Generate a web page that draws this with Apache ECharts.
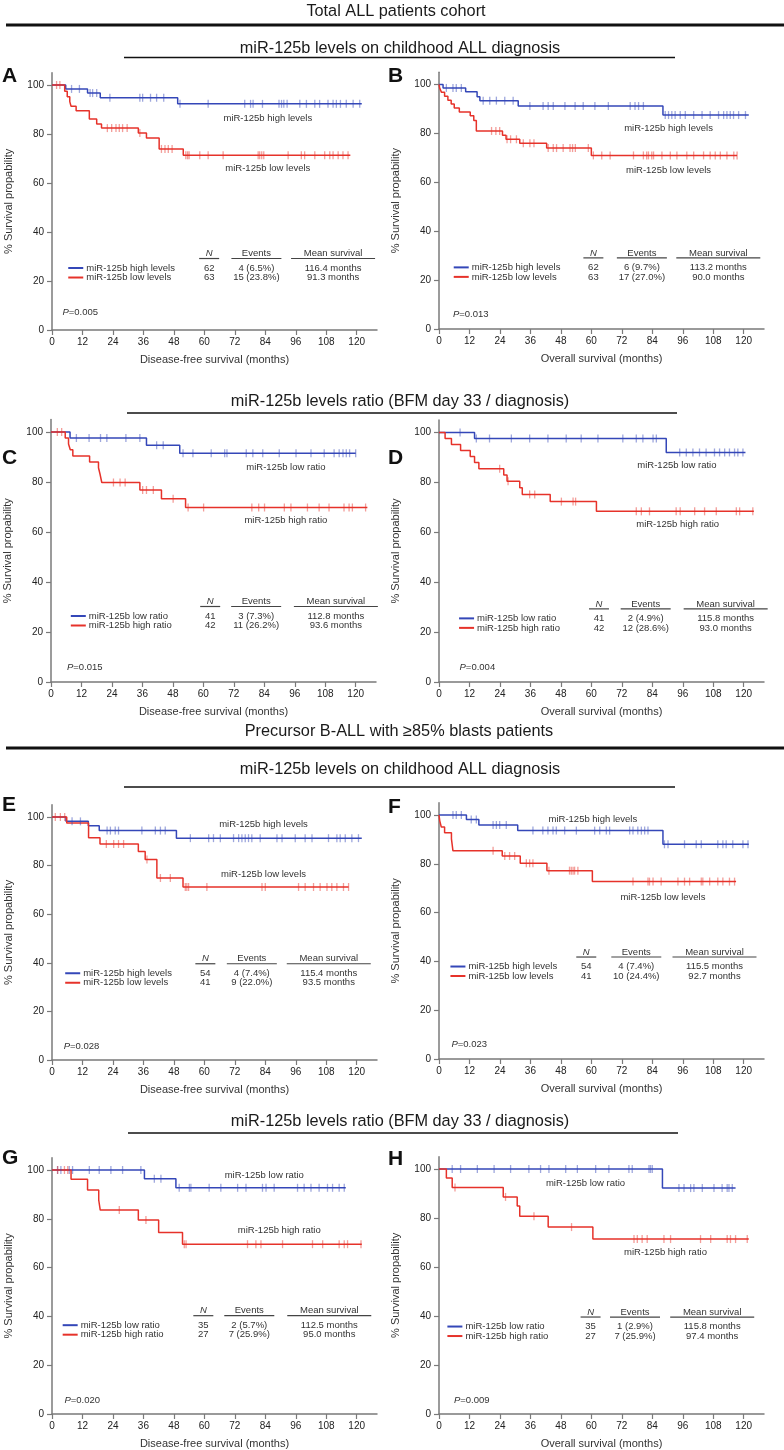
<!DOCTYPE html>
<html>
<head>
<meta charset="utf-8">
<script src="https://cdn.jsdelivr.net/npm/echarts@6.0.0/dist/echarts.min.js"></script>
<style>
  html, body { margin: 0; padding: 0; background: #fff; }
  #chart { width: 784px; height: 1450px; }
</style>
</head>
<body>
<div id="chart"></div>
<script>
// ---- data ----
const xTicks = [0, 12, 24, 36, 48, 60, 72, 84, 96, 108, 120];
const yTicks = [0, 20, 40, 60, 80, 100];
const panelIds = ['A', 'B', 'C', 'D', 'E', 'F', 'G', 'H'];
const xTitles = ['Disease-free survival (months)', 'Overall survival (months)'];
const yTitle = '% Survival propability';
const levelNames = ['miR-125b high levels', 'miR-125b low levels'];
const ratioNames = ['miR-125b low ratio', 'miR-125b high ratio'];
const tableHead = ['N', 'Events', 'Mean survival'];
const pValues = ['0.005', '0.013', '0.015', '0.004', '0.028', '0.023', '0.020', '0.009'];
const headerTexts = [
  'Total ALL patients cohort',
  'miR-125b levels on childhood ALL diagnosis',
  'miR-125b levels ratio (BFM day 33 / diagnosis)',
  'Precursor B-ALL with \u226585% blasts patients',
  'miR-125b levels on childhood ALL diagnosis',
  'miR-125b levels ratio (BFM day 33 / diagnosis)'
];

// Kaplan-Meier steps [month, % surviving] and censor times (months)
const aHigh = [[0,100],[5.4,98.4],[14,96.7],[19,94.8],[49.5,92.3],[122,92.3]];
const aHighCens = [7.7,10.8,15,16,17.6,22.8,34.6,35.7,38.8,41.2,44,50.4,61.5,75.9,78.2,79.2,82.9,89.4,90.4,91.3,92.6,97.6,100.2,103.5,105.4,108.7,110.7,112,113.6,115.9,118.6,121.2];
const aLow = [[0,100],[5,97.4],[6,95.2],[7,93.2],[7.5,91.3],[9.5,89.5],[14.7,86.1],[17.6,84.1],[19.5,82.4],[34,80.4],[37.2,78.4],[42.2,73.9],[51.7,71.3],[117.5,71.3]];
const aLowCens = [1.8,3.1,21.8,23.5,25.2,26.5,27.8,29.6,34.6,43.1,44.5,45.8,47.3,52.7,53.4,54,58.2,61.5,67.4,81.2,81.8,82.6,83.4,93,98.2,99.5,103.5,107.4,109.4,110.7,112.7,114.6,116.6];

const bHigh = [[0,100],[1.6,98.6],[10.5,97],[15,95],[16.1,93.4],[31.2,91.2],[88.2,87.5],[122,87.5]];
const bHighCens = [2.9,5.5,6.8,8.8,17.4,20,22.6,25.9,29.2,35.8,41,43,45,49.6,53.6,56.8,61.4,66.7,75.3,77.2,78.6,80.5,89.1,90.4,91.7,93,95,97,100.3,103.6,106.8,110.1,112.1,113.4,114.7,116,118,120.7];
const bLow = [[0,100],[0.3,98.4],[1,96.8],[2.2,95.2],[3.5,93.6],[4.8,92],[6,90.4],[8,88.8],[12.3,87.2],[13.7,85.3],[14.7,81],[25,79.2],[26.4,77.6],[31.8,76],[42.4,74],[60,71],[117.4,71]];
const bLowCens = [20.7,22.4,23.9,26.8,28.2,30.5,33.2,35.8,37.4,43,45,46.3,48.9,51.6,52.6,53.7,58.8,60.8,64.1,67.4,76.6,80.5,81.8,82.5,83.8,84.5,87.8,91.1,93.7,97.6,100.3,104.2,106.8,108.8,110.8,113.4,116.1,117.4];

const cLow = [[0,100],[7.5,97.6],[37.6,94.7],[50.7,91.5],[120,91.5]];
const cLowCens = [10,15,19.5,22,29.5,35,41.6,44.2,52,55.9,63.1,68.4,69.3,76.9,79.5,83.4,89.9,96.5,102.4,107.6,111.5,113.5,115,116.3,117.6,120];
const cHigh = [[0,100],[5.6,97.6],[6.9,95.2],[7.6,92.9],[8.6,90.4],[15.2,88],[18.7,85.7],[19.3,83.2],[20,79.8],[35,76.8],[43.5,73.3],[53,69.8],[124.6,69.8]];
const cHighCens = [2.5,4.2,24.6,27.2,29.2,36.1,37.6,40.3,48.1,54,60.1,79.1,81.8,84.1,91.9,94.5,101,105.6,109.5,115.4,117.4,118.7,123.9];

const dLow = [[0,100],[14,97.6],[89.5,92],[120.7,92]];
const dLowCens = [8.3,14.7,19.9,28.5,35.7,42.9,50.1,56,62.6,72.4,77.7,80.3,84.3,85.6,94.8,97.4,100,102.6,105.2,108.5,110.5,112.5,114.4,116.4,117.7,119.7];
const dHigh = [[0,100],[2.4,97.6],[4.9,95.2],[8.5,92.8],[12.3,90.4],[14,88],[15.7,85.5],[25.5,83],[26.8,80.5],[31.8,77.9],[32.8,75.2],[43.8,72.3],[62,68.4],[124,68.4]];
const dHighCens = [23.9,27.2,35.7,37.7,48.2,52.8,53.8,77.7,79.7,82.9,93.4,95,100.7,104.6,109.2,117.1,118.4,123.6];

const eHigh = [[0,100],[5.5,98.2],[14.3,96.4],[18.6,94.4],[49,91.3],[122,91.3]];
const eHighCens = [7.9,11.2,21.7,23,24.9,26.2,35.4,40.7,42.7,44.6,54.5,61.7,63.6,66.3,71.5,73.5,74.8,76.1,77.4,78.7,82,88.6,90.6,95.8,99.7,102.4,108.9,112.2,113.5,115.5,118.1,120.7];
const eLow = [[0,100],[5.8,97.5],[14.4,91.5],[18.9,88.9],[34,85.8],[36.7,82.5],[41.3,74.9],[51.6,71.2],[116.8,71.2]];
const eLowCens = [1.3,3.3,5,21.4,24.3,26.2,28.2,37.4,42.7,46.6,52.5,53.1,53.8,61,82.7,84,97.1,99.7,103,105.6,108.3,110.2,112.2,114.8,116.8];

const fHigh = [[0,100],[10.8,98.2],[15.7,95.9],[31,93.6],[88.2,88],[122,88]];
const fHighCens = [5.5,6.8,8.8,12.7,14.7,21.3,22.6,23.9,26.5,37,40.9,42.9,44.9,46.2,49.5,54.1,61.3,63.3,65.9,67.2,75.1,76.4,78.3,79.7,81,82.3,88.8,90.2,96.7,101.3,103.3,109.8,111.8,113.1,115.7,119.7,121.7];
const fLow = [[0,100],[0.3,97.6],[0.9,95.1],[2.2,92.7],[4.9,90.2],[5.5,85.3],[24.9,83.2],[32,80.2],[42.5,77.2],[60.4,72.7],[117,72.7]];
const fLowCens = [21.3,25.9,27.8,29.8,34.4,35.7,37,43.3,51.4,52.1,52.8,53.4,54.7,76.4,82.3,82.9,84.3,87.5,94.1,96.7,98.7,103.3,103.9,106.6,109.8,111.8,114.4,116.4];

const gLow = [[0,100],[36.4,96.4],[48.8,92.7],[115.7,92.7]];
const gLowCens = [2.2,3.5,6.8,8.1,14.7,18.6,23.2,27.8,35,40.3,42.9,50.1,54.1,54.7,61.9,66.5,73.1,76.4,82.9,84.3,87.5,96.7,99.3,102,105.2,108.5,110.5,113.1,115.1];
const gHigh = [[0,100],[7.5,96.2],[14,91.8],[18.4,87.7],[19,83.6],[34,79.5],[42,74.4],[51.4,69.6],[122,69.6]];
const gHighCens = [2.2,4.9,6.2,26.5,37,52.1,52.8,77,80.3,82.3,90.8,102.6,106.6,113.1,115.1,116.4,121.7];

const hLow = [[0,100],[88,92.2],[116.8,92.2]];
const hLowCens = [5.2,8.5,15.1,21.7,28.2,35.4,40,43.3,49.9,54.5,61.7,66.9,74.8,76.1,82.7,83.3,84,94.5,96.5,99.1,100.4,103.7,108.3,111.5,113.5,114.2,115.5];
const hHigh = [[0,100],[2.9,96.3],[5.2,92.4],[25.3,88.6],[30.8,84.9],[31.8,80.7],[43,76.3],[60.6,71.4],[122,71.4]];
const hHighCens = [6.3,26.2,37.4,52.2,76.8,78.1,80,82,88.6,91.2,103,107,113.5,114.8,116.8,121.4];

// rows: N, events, mean survival (first row = blue group)
const tableA = [['62', '4 (6.5%)', '116.4 months'], ['63', '15 (23.8%)', '91.3 months']];
const tableB = [['62', '6 (9.7%)', '113.2 months'], ['63', '17 (27.0%)', '90.0 months']];
const tableC = [['41', '3 (7.3%)', '112.8 months'], ['42', '11 (26.2%)', '93.6 months']];
const tableD = [['41', '2 (4.9%)', '115.8 months'], ['42', '12 (28.6%)', '93.0 months']];
const tableE = [['54', '4 (7.4%)', '115.4 months'], ['41', '9 (22.0%)', '93.5 months']];
const tableF = [['54', '4 (7.4%)', '115.5 months'], ['41', '10 (24.4%)', '92.7 months']];
const tableG = [['35', '2 (5.7%)', '112.5 months'], ['27', '7 (25.9%)', '95.0 months']];
const tableH = [['35', '1 (2.9%)', '115.8 months'], ['27', '7 (25.9%)', '97.4 months']];

const curves = [
  [aHigh, aHighCens, aLow, aLowCens], [bHigh, bHighCens, bLow, bLowCens],
  [cLow, cLowCens, cHigh, cHighCens], [dLow, dLowCens, dHigh, dHighCens],
  [eHigh, eHighCens, eLow, eLowCens], [fHigh, fHighCens, fLow, fLowCens],
  [gLow, gLowCens, gHigh, gHighCens], [hLow, hLowCens, hHigh, hHighCens]
];
const tables = [tableA, tableB, tableC, tableD, tableE, tableF, tableG, tableH];
const groupNames = [levelNames, levelNames, ratioNames, ratioNames, levelNames, levelNames, ratioNames, ratioNames];

// ---- layout ----
const FONT = '"Liberation Sans", Arial, sans-serif';
const BLUE = '#3447b8', RED = '#e6322a';
const BLUE_M = 'rgba(52,71,184,0.6)', RED_M = 'rgba(230,50,42,0.6)';
const AXIS = '#7a7a7a';
const XMAX = 128, YMAX = 105, PW = 325;

const frames = [
  { left: 52, y100: 85, y0: 330 }, { left: 439, y100: 84.5, y0: 329 },
  { left: 51, y100: 432, y0: 682 }, { left: 439, y100: 432.5, y0: 682 },
  { left: 52, y100: 817, y0: 1060 }, { left: 439, y100: 815, y0: 1059 },
  { left: 52, y100: 1170, y0: 1414 }, { left: 439, y100: 1169, y0: 1414 }
];
// table row, legend start, column centres, P position, curve labels (data units)
const boxes = [
  { row: 25.3, leg: 6.4, cols: [61.9, 80.5, 110.7], p: [4.1, 7], lab: [[85, 86.5], [85, 66.1]] },
  { row: 25.2, leg: 5.8, cols: [60.8, 79.9, 110], p: [5.5, 6.1], lab: [[90.4, 82], [90.4, 65]] },
  { row: 26.4, leg: 7.8, cols: [62.7, 80.8, 112.2], p: [6.3, 6], lab: [[92.5, 86], [92.5, 64.7]] },
  { row: 25.5, leg: 7.9, cols: [63, 81.4, 112.9], p: [8.1, 6], lab: [[93.7, 87], [94, 63]] },
  { row: 35.7, leg: 5.2, cols: [60.4, 78.7, 109], p: [4.6, 5.5], lab: [[83.3, 97.1], [83.3, 76.2]] },
  { row: 37.9, leg: 4.5, cols: [58, 77.7, 108.5], p: [4.9, 5.9], lab: [[60.6, 98.4], [88.2, 66.3]] },
  { row: 36.4, leg: 4.2, cols: [59.6, 77.7, 109.2], p: [4.9, 5.5], lab: [[83.6, 97.7], [89.5, 75.1]] },
  { row: 35.7, leg: 3.3, cols: [59.7, 77.2, 107.6], p: [5.9, 5.5], lab: [[57.7, 94.3], [89.2, 66]] }
];
const letterPos = [[2, 76], [388, 76], [2, 458], [388, 458], [2, 805], [388, 807], [2, 1158], [388, 1159]];
const headerPos = [[396, 12], [400, 49], [400, 402], [399, 732], [400, 770], [400, 1122]];
const headerLines = [[6, 784, 25, 3], [124, 675, 57.5, 1.5], [127, 677, 413, 1.5], [6, 784, 748, 3], [124, 675, 787, 1.5], [128, 678, 1133, 1.5]];
const underHalf = [10, 25, 42];

function scaleY(f) { return (f.y0 - f.y100) / 100; }
function px(f, m, v) { return [f.left + m * PW / XMAX, f.y0 - v * scaleY(f)]; }
function survAt(steps, t) {
  let v = steps[0][1];
  for (const [tt, s] of steps) if (tt <= t) v = s;
  return v;
}

const graphics = [];
function text(x, y, s, o) {
  o = o || {};
  const align = o.align || 'left';
  graphics.push({
    type: 'text', x: x, y: y, silent: true,
    style: {
      text: s, fill: o.color || '#333',
      font: (o.italic ? 'italic ' : '') + (o.bold ? 'bold ' : '') + (o.size || 9.5) + 'px ' + FONT,
      align: align, verticalAlign: 'middle', textAlign: align, textVerticalAlign: 'middle'
    }
  });
}
function line(x1, y1, x2, y2, color, w) {
  graphics.push({ type: 'line', silent: true, shape: { x1, y1, x2, y2 }, style: { stroke: color, lineWidth: w } });
}

headerTexts.forEach((t, i) => text(headerPos[i][0], headerPos[i][1], t, { align: 'center', size: 16.3, color: '#1a1a1a' }));
headerLines.forEach(l => line(l[0], l[2], l[1], l[2], '#111', l[3]));

const grids = [], xAxes = [], yAxes = [], series = [];
frames.forEach((f, i) => {
  const k = scaleY(f);
  grids.push({ left: f.left, top: f.y0 - YMAX * k, width: PW, height: YMAX * k });
  xAxes.push({
    type: 'value', gridIndex: i, min: 0, max: XMAX, interval: 12,
    name: xTitles[i % 2], nameLocation: 'middle', nameGap: 24,
    nameTextStyle: { fontSize: 11, color: '#333', fontFamily: FONT },
    axisLine: { show: true, onZero: false, lineStyle: { color: AXIS, width: 1.5 } },
    axisTick: { show: true, length: 5, customValues: xTicks, lineStyle: { color: AXIS, width: 1.2 } },
    axisLabel: { customValues: xTicks, fontSize: 10, color: '#222', margin: 7, fontFamily: FONT },
    splitLine: { show: false }
  });
  yAxes.push({
    type: 'value', gridIndex: i, min: 0, max: YMAX, interval: 20,
    name: yTitle, nameLocation: 'middle', nameGap: 38,
    nameTextStyle: { fontSize: 11, color: '#333', fontFamily: FONT },
    axisLine: { show: true, onZero: false, lineStyle: { color: AXIS, width: 1.5 } },
    axisTick: { show: true, length: 5, customValues: yTicks, lineStyle: { color: AXIS, width: 1.2 } },
    axisLabel: { customValues: yTicks, fontSize: 10, color: '#222', margin: 8, fontFamily: FONT },
    splitLine: { show: false }
  });

  const [s1, c1, s2, c2] = curves[i];
  [[s1, c1, BLUE, BLUE_M], [s2, c2, RED, RED_M]].forEach(([steps, cens, col, mcol]) => {
    series.push({
      type: 'line', xAxisIndex: i, yAxisIndex: i, step: 'end', data: steps,
      symbol: 'none', silent: true, lineStyle: { color: col, width: 1.5 }, z: 3
    });
    series.push({
      type: 'scatter', xAxisIndex: i, yAxisIndex: i, silent: true,
      data: cens.map(t => [t, survAt(steps, t)]),
      symbol: 'rect', symbolSize: [1.3, 8], itemStyle: { color: mcol }, z: 4
    });
  });

  // legend + table
  const b = boxes[i], names = groupNames[i], tab = tables[i];
  const r1 = px(f, 0, b.row)[1], r2 = r1 + 9.5;
  const lx = px(f, b.leg, 0)[0];
  line(lx, r1, lx + 15, r1, BLUE, 2);
  line(lx, r2, lx + 15, r2, RED, 2);
  text(lx + 18, r1, names[0]);
  text(lx + 18, r2, names[1]);
  b.cols.forEach((c, j) => {
    const cx = px(f, c, 0)[0];
    text(cx, r1 - 14.5, tableHead[j], { align: 'center', italic: j === 0 });
    line(cx - underHalf[j], r1 - 9.5, cx + underHalf[j], r1 - 9.5, '#444', 1.2);
    text(cx, r1, tab[0][j], { align: 'center' });
    text(cx, r2, tab[1][j], { align: 'center' });
  });
  const pp = px(f, b.p[0], b.p[1]);
  text(pp[0], pp[1], 'P', { italic: true });
  text(pp[0] + 6.3, pp[1], '=' + pValues[i]);
  b.lab.forEach((l, j) => {
    const q = px(f, l[0], l[1]);
    text(q[0], q[1], names[j], { align: 'center' });
  });
  text(letterPos[i][0], letterPos[i][1], panelIds[i], { bold: true, size: 21, color: '#111' });
});

const chart = echarts.init(document.getElementById('chart'), null, { renderer: 'canvas' });
chart.setOption({
  animation: false,
  backgroundColor: '#fff',
  grid: grids,
  xAxis: xAxes,
  yAxis: yAxes,
  series: series,
  graphic: graphics
});
</script>
</body>
</html>
